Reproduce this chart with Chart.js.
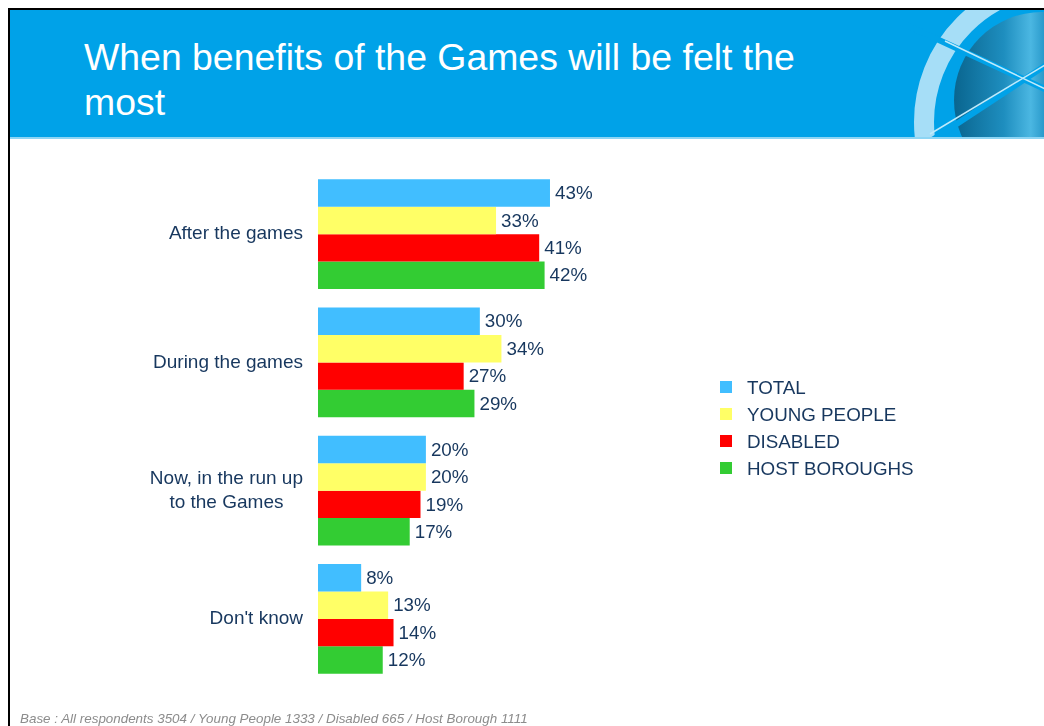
<!DOCTYPE html>
<html>
<head>
<meta charset="utf-8">
<title>When benefits of the Games will be felt the most</title>
<script src="https://cdn.jsdelivr.net/npm/chart.js@4.4.1/dist/chart.umd.min.js"></script>
<style>
  html, body { margin: 0; padding: 0; background: #ffffff; }
  body { width: 1044px; height: 726px; position: relative; overflow: hidden;
         font-family: "Liberation Sans", Arial, sans-serif; }
  #frameTop  { position: absolute; left: 8px; top: 8px; width: 1036px; height: 2px; background: #000; }
  #frameLeft { position: absolute; left: 8px; top: 8px; width: 2px; height: 718px; background: #000; }
  #header { position: absolute; left: 10px; top: 10px; width: 1034px; height: 127px; background: #00A2E8; }
  #headerRule { position: absolute; left: 10px; top: 137px; width: 1034px; height: 2px; background: #8DD5F4; }
  #emblem { position: absolute; left: 0; top: 0; }
  #title { position: absolute; left: 84px; top: 35px; margin: 0; color: #ffffff;
           font-weight: normal; font-size: 37.4px; line-height: 45px; }
  #chart { position: absolute; left: 0; top: 0; }
  #legend { position: absolute; left: 720px; top: 374px; margin: 0; padding: 0; list-style: none; }
  #legend li { height: 27px; line-height: 27px; font-size: 18.8px; color: #17375E; position: relative; padding-left: 27px; white-space: nowrap; }
  #legend li span { position: absolute; left: 0; top: 7px; width: 12px; height: 12px; }
  #footer { position: absolute; left: 20px; top: 711px; font-size: 13.4px; font-style: italic; color: #8C8C8C; white-space: nowrap; }
</style>
</head>
<body>
<div id="header"></div>
<svg id="emblem" width="1044" height="140" viewBox="0 0 1044 140">
  <defs>
    <clipPath id="hdrClip"><rect x="10" y="10" width="1034" height="127"/></clipPath>
    <linearGradient id="orb" x1="955" y1="0" x2="1044" y2="0" gradientUnits="userSpaceOnUse">
      <stop offset="0" stop-color="#0A6690"/>
      <stop offset="0.55" stop-color="#1E8EBF"/>
      <stop offset="0.85" stop-color="#4BB7E2"/>
      <stop offset="1" stop-color="#2A9ACB"/>
    </linearGradient>
  </defs>
  <g clip-path="url(#hdrClip)">
    <circle cx="1062" cy="122" r="138" fill="none" stroke="#A6DEF7" stroke-width="20"/>
    <circle cx="1042" cy="100" r="88" fill="url(#orb)"/>
    <line x1="900" y1="22" x2="1060" y2="96" stroke="#00A2E8" stroke-width="6"/>
    <line x1="905" y1="158" x2="1060" y2="56" stroke="#00A2E8" stroke-width="6"/>
    <line x1="945" y1="41" x2="1060" y2="96" stroke="#BFEAFB" stroke-width="1.5"/>
    <line x1="930" y1="134" x2="1060" y2="56" stroke="#BFEAFB" stroke-width="1.5"/>
  </g>
</svg>
<div id="headerRule"></div>
<div id="frameTop"></div>
<div id="frameLeft"></div>
<h1 id="title">When benefits of the Games will be felt the<br>most</h1>
<canvas id="chart" width="1044" height="726"></canvas>
<ul id="legend"></ul>
<div id="footer">Base : All respondents 3504 / Young People 1333 / Disabled 665 / Host Borough 1111</div>

<script>
// Answer categories (multi-line entries are drawn as stacked, centred lines)
const categories = [
  ['After the games'],
  ['During the games'],
  ['Now, in the run up', 'to the Games'],
  ["Don't know"]
];

// Series names and per-category percentages
const seriesNames = ['TOTAL', 'YOUNG PEOPLE', 'DISABLED', 'HOST BOROUGHS'];
const totalValues        = [43, 30, 20, 8];
const youngPeopleValues  = [33, 34, 20, 13];
const disabledValues     = [41, 27, 19, 14];
const hostBoroughValues  = [42, 29, 17, 12];
const seriesColors = ['#41BEFF', '#FFFF66', '#FF0000', '#33CC33'];

const seriesValues = [totalValues, youngPeopleValues, disabledValues, hostBoroughValues];
const textColor = '#17375E';
const fontFamily = '"Liberation Sans", Arial, sans-serif';

// Percent labels at the end of each bar, category labels to the left of each group
const barLabels = {
  id: 'barLabels',
  afterDatasetsDraw(chart) {
    const ctx = chart.ctx;
    ctx.save();
    ctx.fillStyle = textColor;
    ctx.font = '18.8px ' + fontFamily;
    ctx.textBaseline = 'middle';
    ctx.textAlign = 'left';
    chart.data.datasets.forEach((ds, di) => {
      const meta = chart.getDatasetMeta(di);
      meta.data.forEach((bar, i) => {
        ctx.fillText(ds.data[i] + '%', bar.x + 5, bar.y + 1);
      });
    });

    ctx.font = '19px ' + fontFamily;
    const yScale = chart.scales.y;
    const rightEdge = 303;
    const lineGap = 24;
    categories.forEach((lines, i) => {
      const cy = yScale.getPixelForValue(i);
      const widest = Math.max(...lines.map(l => ctx.measureText(l).width));
      const cx = rightEdge - widest / 2;
      ctx.textAlign = 'center';
      lines.forEach((line, k) => {
        const y = cy + (k - (lines.length - 1) / 2) * lineGap;
        ctx.fillText(line, cx, y);
      });
    });
    ctx.restore();
  }
};

new Chart(document.getElementById('chart'), {
  type: 'bar',
  data: {
    labels: categories,
    datasets: seriesNames.map((name, i) => ({
      label: name,
      data: seriesValues[i],
      backgroundColor: seriesColors[i],
      borderWidth: 0,
      categoryPercentage: 0.856,
      barPercentage: 1
    }))
  },
  options: {
    indexAxis: 'y',
    responsive: false,
    animation: false,
    layout: { padding: { left: 318, right: 186.5, top: 170, bottom: 43 } },
    scales: {
      x: { display: false, min: 0, max: 100 },
      y: { display: false }
    },
    plugins: {
      legend: { display: false },
      tooltip: { enabled: false }
    }
  },
  plugins: [barLabels]
});

// Legend list built from the series arrays
const legend = document.getElementById('legend');
seriesNames.forEach((name, i) => {
  const li = document.createElement('li');
  const sw = document.createElement('span');
  sw.style.background = seriesColors[i];
  li.appendChild(sw);
  li.appendChild(document.createTextNode(name));
  legend.appendChild(li);
});
</script>
</body>
</html>
